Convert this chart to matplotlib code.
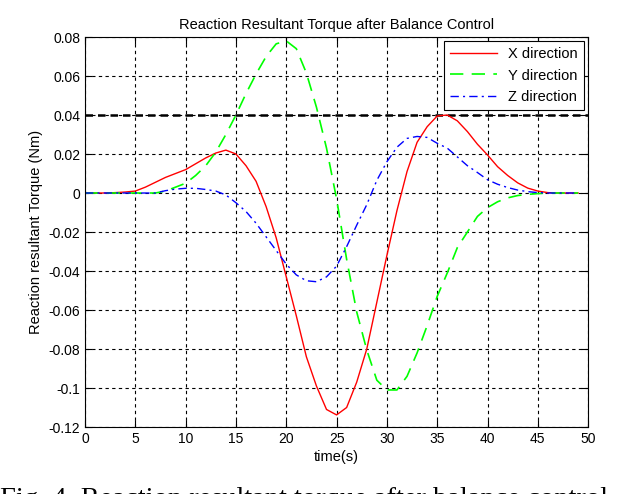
import matplotlib
matplotlib.use("Agg")
from matplotlib import pyplot as plt

plt.rcParams["font.family"] = ["Liberation Sans Narrow", "Liberation Sans", "DejaVu Sans"]

t = list(range(0, 50))

x_dir = [0, 0, 0, 0.0002, 0.0005, 0.001, 0.003, 0.0055, 0.008, 0.010,
         0.012, 0.015, 0.018, 0.0205, 0.022, 0.020, 0.014, 0.006, -0.007, -0.023,
         -0.043, -0.063, -0.084, -0.099, -0.111, -0.1138, -0.110, -0.097, -0.080, -0.056,
         -0.032, -0.009, 0.011, 0.026, 0.034, 0.0395, 0.040, 0.037, 0.0315, 0.025,
         0.0195, 0.0135, 0.009, 0.0052, 0.0025, 0.001, 0.0002, 0, 0, 0]

y_dir = [0, 0, 0, 0, 0, 0, 0, 0, 0.001, 0.003,
         0.005, 0.009, 0.014, 0.021, 0.030, 0.040, 0.051, 0.061, 0.070, 0.0765,
         0.078, 0.074, 0.0615, 0.044, 0.023, -0.003, -0.034, -0.061, -0.0805, -0.096,
         -0.101, -0.101, -0.094, -0.082, -0.068, -0.053, -0.041, -0.028, -0.020, -0.012,
         -0.0075, -0.0045, -0.0025, -0.0013, -0.0007, -0.0003, 0, 0, 0, 0]

z_dir = [0, 0, 0, 0, 0, 0, 0, 0, 0.0012, 0.002,
         0.0024, 0.0024, 0.0018, 0.001, -0.001, -0.005, -0.0095, -0.0155, -0.0225, -0.0295,
         -0.0365, -0.042, -0.045, -0.0455, -0.043, -0.0375, -0.0275, -0.0165, -0.006, 0.0065,
         0.016, 0.0235, 0.028, 0.029, 0.0285, 0.0255, 0.023, 0.0185, 0.014, 0.0105,
         0.0068, 0.0045, 0.0028, 0.0015, 0.0007, 0.0002, 0, 0, 0, 0]

xticks = list(range(0, 51, 5))
yticks = [0.08, 0.06, 0.04, 0.02, 0, -0.02, -0.04, -0.06, -0.08, -0.1, -0.12]
ytick_labels = ["0.08", "0.06", "0.04", "0.02", "0", "-0.02", "-0.04", "-0.06", "-0.08", "-0.1", "-0.12"]

fig = plt.figure(figsize=(6.4, 4.94), dpi=100)
ax = fig.add_axes([0.1328, 0.1356, 0.7862, 0.7895])

ax.plot(t, x_dir, color="#ff0000", lw=1.0, label="X direction")
ax.plot(t, y_dir, color="#00ff00", lw=1.2, linestyle=(0, (8, 5)), label="Y direction")
ax.plot(t, z_dir, color="#0000ff", lw=1.0, linestyle=(0, (6, 3, 1.5, 3)), label="Z direction")

ax.set_xlim(0, 50)
ax.set_ylim(-0.12, 0.08)
ax.set_xticks(xticks)
ax.set_yticks(yticks)
ax.set_yticklabels(ytick_labels)
ax.grid(True, color="black", linestyle=(0, (3, 3)), lw=0.8)
ax.axhline(0.04, color="black", linestyle=(0, (3, 2)), lw=1.8, zorder=0.5)
ax.tick_params(direction="in", top=True, right=True, length=5, labelsize=10)
for s in ax.spines.values():
    s.set_linewidth(0.8)

ax.set_title("Reaction Resultant Torque after Balance Control", fontsize=10.5, pad=6)
ax.set_xlabel("time(s)", fontsize=10.5, labelpad=3)
ax.set_ylabel("Reaction resultant Torque (Nm)", fontsize=10.5, labelpad=4)

leg = ax.legend(loc="upper right", fontsize=10.5, fancybox=False, framealpha=1,
                edgecolor="black", handlelength=3.2, borderaxespad=0.3)
leg.get_frame().set_linewidth(0.8)

# caption of the paper figure, only its top shows at the bottom edge
fig.text(0.0, -0.024, "Fig. 4. Reaction resultant torque after balance control",
         family=["Liberation Serif", "DejaVu Serif"], fontsize=20.5, va="baseline", ha="left")

fig.savefig("out.png", dpi=100)
